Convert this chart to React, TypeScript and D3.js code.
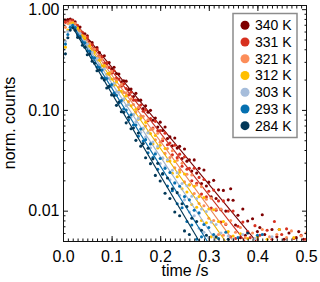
// @ts-nocheck
import React, { useEffect, useRef } from "react";
import * as d3 from "d3";

// temperature series, warm to cold
const temps = ["340 K", "331 K", "321 K", "312 K", "303 K", "293 K", "284 K"];
const colors = ["#7f0000", "#d7301f", "#fc8d59", "#ffbf00", "#a6bddb", "#0570b0", "#023858"];

// sampled every 5 ms, 0 = below the plotted range
const timeStep = 0.005;
const counts340 = [
  0.80, 0.78, 0.79, 0.80,
  0.78, 0.75, 0.67, 0.665, 0.575, 0.57, 0.545, 0.475, 0.465, 0.41,
  0.415, 0.37, 0.335, 0.345, 0.29, 0.295, 0.255, 0.265, 0.23, 0.227,
  0.19, 0.195, 0.193, 0.159, 0.161, 0.136, 0.146, 0.125, 0.125, 0.103,
  0.110, 0.095, 0.099, 0.079, 0.083, 0.0675, 0.0756, 0.0624, 0.0677, 0.0519,
  0.054, 0.044, 0.0526, 0.0418, 0.0435, 0.033, 0.041, 0.031, 0.032, 0.0247,
  0.0319, 0.0236, 0.0263, 0.0186, 0.0253, 0.0176, 0.0192, 0.0137, 0.020, 0.0132,
  0.0161, 0.0102, 0.0159, 0.0099, 0.0128, 0.0165, 0.0127, 0.0072, 0.0090, 0.0054,
  0.0104, 0.0057, 0.0079, 0, 0.0083, 0, 0.0062, 0.0068, 0.0091, 0.0058,
  0, 0, 0.0065, 0, 0.0055, 0.0065, 0, 0.0052, 0, 0.0060,
  0, 0, 0.0054, 0.0062, 0, 0.0052,
];
const counts331 = [
  0.76, 0.74, 0.75, 0.77,
  0.77, 0.69, 0.69, 0.61, 0.59, 0.51, 0.525, 0.457, 0.443, 0.388,
  0.40, 0.34, 0.337, 0.289, 0.294, 0.264, 0.231, 0.245, 0.207, 0.203,
  0.172, 0.182, 0.163, 0.141, 0.150, 0.125, 0.125, 0.103, 0.112, 0.097,
  0.100, 0.078, 0.082, 0.066, 0.077, 0.062, 0.0625, 0.0495, 0.0588, 0.0451,
  0.0469, 0.0358, 0.0446, 0.0336, 0.0364, 0.0276, 0.0342, 0.0258, 0.0263, 0.0198,
  0.0264, 0.0187, 0.0214, 0.0146, 0.0204, 0.0137, 0.0156, 0.0106, 0.016, 0.0101,
  0.0125, 0.0077, 0.0125, 0.0073, 0.0099, 0.0055, 0.0099, 0.0053, 0.0070, 0,
  0.0077, 0, 0.0062, 0.0054, 0, 0.0071, 0, 0.0057, 0, 0,
  0.0064, 0, 0.0052, 0.0078, 0, 0, 0.0058, 0, 0.0066, 0,
  0, 0.0053, 0, 0, 0.0057, 0, 0.0052,
];
const counts321 = [
  0.70, 0.66, 0.72, 0.75,
  0.74, 0.72, 0.62, 0.61, 0.545, 0.54, 0.453, 0.455, 0.406, 0.403,
  0.331, 0.334, 0.318, 0.27, 0.269, 0.225, 0.24, 0.204, 0.195, 0.168,
  0.179, 0.149, 0.148, 0.121, 0.129, 0.113, 0.0956, 0.106, 0.0868, 0.0863,
  0.0692, 0.080, 0.0636, 0.0645, 0.0506, 0.0586, 0.0479, 0.0518, 0.037, 0.0414,
  0.0337, 0.0393, 0.0267, 0.0317, 0.0254, 0.0296, 0.0193, 0.023, 0.018, 0.0226,
  0.0148, 0.018, 0.0118, 0.0173, 0.0112, 0.013, 0.0084, 0.0133, 0.0080, 0.0104,
  0.0058, 0.0104, 0.0057, 0.0074, 0, 0.0080, 0.0052, 0.0061, 0, 0.0068,
  0, 0.0054, 0, 0, 0.0060, 0, 0.0052, 0, 0.0065, 0,
  0, 0.0055, 0, 0, 0.0058, 0, 0, 0, 0.0054, 0,
  0.0063, 0, 0, 0, 0.0056, 0, 0.0060,
];
const counts312 = [
  0.50, 0.42, 0.62, 0.71,
  0.73, 0.654, 0.648, 0.552, 0.542, 0.516, 0.426, 0.431, 0.378, 0.375,
  0.314, 0.311, 0.273, 0.276, 0.226, 0.231, 0.203, 0.176, 0.189, 0.155,
  0.153, 0.127, 0.138, 0.113, 0.110, 0.090, 0.1015, 0.081, 0.0827, 0.0647,
  0.0753, 0.0595, 0.0584, 0.046, 0.0557, 0.0419, 0.0446, 0.0331, 0.0413, 0.0312,
  0.0312, 0.0235, 0.0308, 0.0217, 0.0241, 0.0165, 0.0231, 0.0153, 0.0181, 0.0115,
  0.0175, 0.0108, 0.0138, 0.0080, 0.0135, 0.0076, 0.0104, 0.0055, 0.0102, 0.0054,
  0.0078, 0, 0.0078, 0, 0.0062, 0, 0.0056, 0, 0, 0.0059,
  0, 0, 0.0053, 0, 0, 0, 0.0055, 0, 0, 0,
  0.0052, 0, 0, 0, 0, 0.0065, 0, 0, 0, 0,
  0, 0.0054,
];
const counts303 = [
  0.45, 0.48, 0.60, 0.69,
  0.696, 0.673, 0.582, 0.574, 0.483, 0.476, 0.45, 0.379, 0.374, 0.314,
  0.325, 0.279, 0.246, 0.255, 0.212, 0.206, 0.172, 0.184, 0.151, 0.150,
  0.120, 0.129, 0.110, 0.113, 0.0852, 0.0906, 0.0761, 0.0824, 0.0596, 0.0659,
  0.0538, 0.0594, 0.0421, 0.0481, 0.0376, 0.0436, 0.0294, 0.0334, 0.0272, 0.032,
  0.0203, 0.0252, 0.0186, 0.0238, 0.0142, 0.0186, 0.0128, 0.0177, 0.0097, 0.0139,
  0.0089, 0.0132, 0.0067, 0.0104, 0.0061, 0.0098, 0.0054, 0.0077, 0, 0.0073,
  0, 0.0060, 0, 0, 0.0056, 0, 0.0052, 0, 0, 0,
  0.0058, 0, 0, 0, 0, 0.0053, 0, 0, 0, 0,
  0, 0, 0.0055,
];
const counts293 = [
  0.40, 0.45, 0.56, 0.66,
  0.69, 0.656, 0.554, 0.539, 0.469, 0.464, 0.385, 0.381, 0.332, 0.329,
  0.266, 0.264, 0.249, 0.206, 0.205, 0.169, 0.179, 0.147, 0.140, 0.117,
  0.124, 0.102, 0.0999, 0.0792, 0.0897, 0.0708, 0.0709, 0.0549, 0.0645, 0.0491,
  0.0507, 0.0376, 0.046, 0.0337, 0.0365, 0.0257, 0.033, 0.023, 0.0263, 0.0176,
  0.0239, 0.0158, 0.0189, 0.0117, 0.0175, 0.0107, 0.0138, 0.0078, 0.0128, 0.0072,
  0.0101, 0.0052, 0.0095, 0.0055, 0.0073, 0, 0.0068, 0, 0.0058, 0,
  0.0053, 0, 0, 0.0061, 0, 0, 0, 0, 0.0054, 0,
  0, 0, 0, 0, 0, 0, 0.0057, 0, 0.0058,
];
const counts284 = [
  0.33, 0.36, 0.52, 0.62,
  0.653, 0.619, 0.525, 0.518, 0.439, 0.42, 0.353, 0.359, 0.305, 0.291,
  0.245, 0.249, 0.208, 0.198, 0.165, 0.172, 0.141, 0.139, 0.111, 0.120,
  0.096, 0.0946, 0.0744, 0.0845, 0.0651, 0.0662, 0.0499, 0.059, 0.0437, 0.0463,
  0.0335, 0.0416, 0.0293, 0.0327, 0.0224, 0.0295, 0.0197, 0.0233, 0.0149, 0.0211,
  0.0132, 0.0165, 0.0097, 0.0151, 0.0089, 0.0117, 0.0063, 0.011, 0.0058, 0.0084,
  0, 0.0078, 0, 0.0064, 0, 0.0057, 0, 0, 0, 0.0055,
  0, 0, 0, 0, 0.0052, 0, 0, 0, 0, 0,
  0, 0, 0.0060,
];
const allCounts = [counts340, counts331, counts321, counts312, counts303, counts293, counts284];

// mono-exponential fits: [t start, value start, t end, value end]
const fitLines = [
  [0.02, 0.78, 0.40, 0.0048],
  [0.02, 0.765, 0.38, 0.0046],
  [0.02, 0.75, 0.355, 0.0047],
  [0.02, 0.73, 0.335, 0.0049],
  [0.02, 0.71, 0.315, 0.0050],
  [0.02, 0.69, 0.30, 0.0047],
  [0.02, 0.66, 0.28, 0.0050],
];

const xTicks = [0, 0.1, 0.2, 0.3, 0.4, 0.5];
const yTicks = [1, 0.1, 0.01];
const yTickLabels = ["1.00", "0.10", "0.01"];

function App() {
  const ref = useRef(null);

  useEffect(() => {
    const W = 320, H = 282;
    const m = { left: 63, right: 306, top: 5, bottom: 241 };
    const font = "'Liberation Sans', Arial, sans-serif";

    const svg = d3.select(ref.current);
    svg.selectAll("*").remove();
    svg.attr("width", W).attr("height", H);

    var x = d3.scaleLinear().domain([0, 0.5]).range([m.left, m.right]);
    var y = d3.scaleLog().domain([0.005, 1.1]).range([m.bottom, m.top]);

    svg.append("defs").append("clipPath").attr("id", "plotclip")
      .append("rect")
      .attr("x", m.left).attr("y", m.top)
      .attr("width", m.right - m.left).attr("height", m.bottom - m.top);

    const plot = svg.append("g").attr("clip-path", "url(#plotclip)");

    allCounts.forEach((vals, s) => {
      const pts = vals.map((v, i) => ({ t: i * timeStep, v })).filter((d) => d.v > 0);
      plot.append("g")
        .selectAll("circle")
        .data(pts)
        .enter()
        .append("circle")
        .attr("cx", (d) => x(d.t))
        .attr("cy", (d) => y(d.v))
        .attr("r", 1.55)
        .attr("fill", colors[s]);

      const f = fitLines[s];
      plot.append("path")
        .attr("d", d3.line()([[x(f[0]), y(f[1])], [x(f[2]), y(f[3])]]))
        .attr("fill", "none")
        .attr("stroke", d3.color(colors[s]).darker(0.2).toString())
        .attr("stroke-width", 1.1);
    });

    // frame
    svg.append("rect")
      .attr("x", m.left + 0.5).attr("y", m.top + 0.5)
      .attr("width", m.right - m.left).attr("height", m.bottom - m.top)
      .attr("fill", "none").attr("stroke", "#111").attr("stroke-width", 1);

    const minorX = d3.range(0, 0.5001, 0.01);
    const minorY = [];
    [0.001, 0.01, 0.1].forEach((dec) => {
      for (let k = 2; k <= 9; k++) {
        const v = dec * k;
        if (v > 0.005 && v < 1.1) minorY.push(v);
      }
    });
    const blank = () => "";

    function styleAxis(g, size) {
      g.select(".domain").remove();
      g.selectAll("line").attr("stroke", "#111");
      g.selectAll("text").attr("font-size", size).attr("font-family", font).attr("fill", "#000");
      g.attr("font-family", null).attr("font-size", null);
    }

    // bottom
    svg.append("g").attr("transform", `translate(0,${m.bottom})`)
      .call(d3.axisBottom(x).tickValues(minorX).tickFormat(blank).tickSizeInner(-2.5).tickSizeOuter(0))
      .call((g) => styleAxis(g, 16));
    svg.append("g").attr("transform", `translate(0,${m.bottom})`)
      .call(d3.axisBottom(x).tickValues(xTicks).tickFormat(d3.format(".1f")).tickSizeInner(-5).tickSizeOuter(0).tickPadding(9.8))
      .call((g) => styleAxis(g, 16));
    // top
    svg.append("g").attr("transform", `translate(0,${m.top + 1})`)
      .call(d3.axisTop(x).tickValues(minorX).tickFormat(blank).tickSizeInner(-2.5).tickSizeOuter(0))
      .call((g) => styleAxis(g, 16));
    svg.append("g").attr("transform", `translate(0,${m.top + 1})`)
      .call(d3.axisTop(x).tickValues(xTicks).tickFormat(blank).tickSizeInner(-5).tickSizeOuter(0))
      .call((g) => styleAxis(g, 16));
    // left
    svg.append("g").attr("transform", `translate(${m.left},0)`)
      .call(d3.axisLeft(y).tickValues(minorY).tickFormat(blank).tickSizeInner(-2.5).tickSizeOuter(0))
      .call((g) => styleAxis(g, 16));
    svg.append("g").attr("transform", `translate(${m.left},0)`)
      .call(d3.axisLeft(y).tickValues(yTicks).tickFormat((d, i) => yTickLabels[i]).tickSizeInner(-5).tickSizeOuter(0).tickPadding(3.5))
      .call((g) => styleAxis(g, 16));
    // right
    svg.append("g").attr("transform", `translate(${m.right + 1},0)`)
      .call(d3.axisRight(y).tickValues(minorY).tickFormat(blank).tickSizeInner(-2.5).tickSizeOuter(0))
      .call((g) => styleAxis(g, 16));
    svg.append("g").attr("transform", `translate(${m.right + 1},0)`)
      .call(d3.axisRight(y).tickValues(yTicks).tickFormat(blank).tickSizeInner(-5).tickSizeOuter(0))
      .call((g) => styleAxis(g, 16));

    // axis titles
    svg.append("text")
      .attr("x", (m.left + m.right) / 2 + 0.5).attr("y", 276)
      .attr("text-anchor", "middle")
      .attr("font-family", font).attr("font-size", 16)
      .text("time /s");
    svg.append("text")
      .attr("transform", `translate(15,${(m.top + m.bottom) / 2}) rotate(-90)`)
      .attr("text-anchor", "middle")
      .attr("font-family", font).attr("font-size", 16)
      .text("norm. counts");

    // legend
    const lg = svg.append("g");
    lg.append("rect")
      .attr("x", 233).attr("y", 13.5).attr("width", 64).attr("height", 124)
      .attr("fill", "#fff").attr("stroke", "#8c8c8c").attr("stroke-width", 1.5);
    temps.forEach((label, i) => {
      const cy = 25.3 + i * 16.73;
      lg.append("circle").attr("cx", 245).attr("cy", cy).attr("r", 4.5).attr("fill", colors[i]);
      lg.append("text")
        .attr("x", 255).attr("y", cy + 5)
        .attr("font-family", font).attr("font-size", 14)
        .text(label);
    });
  }, []);

  return (
    <div style={{ position: "absolute", left: 0, top: 0 }}>
      <svg ref={ref} style={{ display: "block" }}></svg>
    </div>
  );
}

export default App;
